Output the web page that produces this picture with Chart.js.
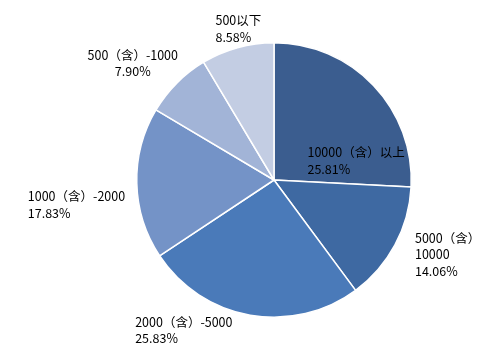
<!DOCTYPE html>
<html>
<head>
<meta charset="utf-8">
<script src="https://cdn.jsdelivr.net/npm/chart.js@4"></script>
<style>
  html, body { margin: 0; padding: 0; background: #fff; }
  canvas { display: block; }
</style>
</head>
<body>
<canvas id="myChart" width="482" height="360"></canvas>
<script>
const categories = ["10000（含）以上", "5000（含）-10000", "2000（含）-5000", "1000（含）-2000", "500（含）-1000", "500以下"];
const shares = [25.81, 14.06, 25.83, 17.83, 7.90, 8.58];
const sliceColors = ["#3b5d8f", "#3e69a2", "#4a7ab9", "#7493c7", "#a2b4d7", "#c3cde3"];

// label placement: nudge from the outer point of each slice's middle angle
const labelLayout = [
    { align: "left", dx: -66, dy: 67 },
    { align: "left", dx: 20, dy: -7, wrap: true },
    { align: "left", dx: -115, dy: 7 },
    { align: "left", dx: -109, dy: 13 },
    { align: "center", dx: -44, dy: -28 },
    { align: "left", dx: -22, dy: -27 },
];

const pieLabels = {
    id: "pieLabels",
    afterDatasetsDraw(chart) {
        const ctx = chart.ctx;
        const meta = chart.getDatasetMeta(0);
        ctx.save();
        ctx.font = "12.5px 'Noto Sans CJK SC', 'Noto Sans', sans-serif";
        ctx.fillStyle = "#000";
        ctx.textBaseline = "middle";
        meta.data.forEach((arc, i) => {
            const mid = (arc.startAngle + arc.endAngle) / 2;
            const x = arc.x + Math.cos(mid) * arc.outerRadius + labelLayout[i].dx;
            const y = arc.y + Math.sin(mid) * arc.outerRadius + labelLayout[i].dy;
            let lines = [categories[i]];
            if (labelLayout[i].wrap) {
                lines = categories[i].split("-");
            }
            lines.push(shares[i].toFixed(2) + "%");
            ctx.textAlign = labelLayout[i].align;
            lines.forEach((t, j) => ctx.fillText(t, x, y + j * 16.5));
        });
        ctx.restore();
    }
};

const ctx = document.getElementById("myChart").getContext("2d");
const myChart = new Chart(ctx, {
    type: "pie",
    data: {
        labels: categories,
        datasets: [{
            data: shares,
            backgroundColor: sliceColors,
            borderColor: "#ffffff",
            borderWidth: 1.5
        }]
    },
    options: {
        responsive: false,
        animation: false,
        layout: {
            padding: { top: 42, bottom: 42, left: 136, right: 70 }
        },
        plugins: {
            legend: { display: false },
            tooltip: { enabled: false }
        }
    },
    plugins: [pieLabels]
});
</script>
</body>
</html>
